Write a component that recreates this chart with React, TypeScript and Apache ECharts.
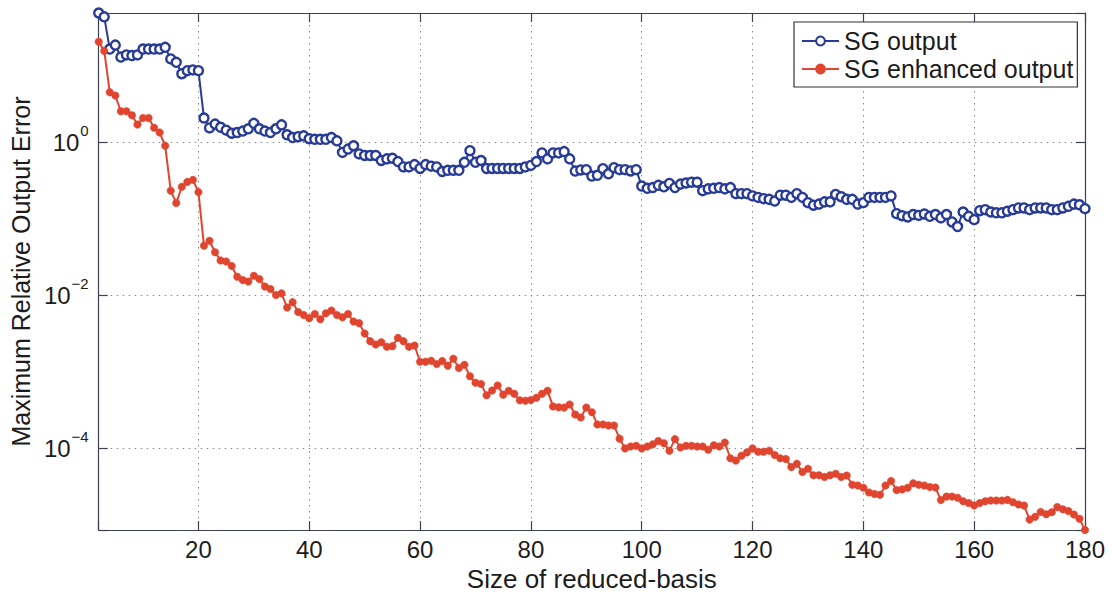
import React, { useEffect, useRef } from "react";
import * as echarts from "echarts";

// Size of reduced basis runs from basisStart, one point per size
const basisStart = 2;
const seriesNames = ["SG output", "SG enhanced output"];
const xTickValues = [20, 40, 60, 80, 100, 120, 140, 160, 180];
const yTickExponents = [-4, -2, 0];

// SG output (blue, open circles), sizes 2..180
const sgOutput = [
  49.5, 44.1, 16.7, 18.8, 13.1, 14.0, 13.7, 14.0, 16.7, 16.7,
  16.7, 16.7, 17.6, 12.4, 11.2, 7.94, 8.71, 8.91, 8.71, 2.09,
  1.55, 1.74, 1.58, 1.45, 1.32, 1.35, 1.41, 1.51, 1.78, 1.51,
  1.41, 1.35, 1.51, 1.70, 1.26, 1.16, 1.19, 1.22, 1.12, 1.10,
  1.10, 1.10, 1.16, 1.05, 0.741, 0.820, 0.906, 0.708, 0.676, 0.676,
  0.676, 0.581, 0.610, 0.622, 0.562, 0.479, 0.479, 0.513, 0.457, 0.513,
  0.490, 0.479, 0.417, 0.432, 0.432, 0.432, 0.550, 0.782, 0.550, 0.581,
  0.457, 0.457, 0.457, 0.457, 0.457, 0.457, 0.457, 0.479, 0.501, 0.562,
  0.730, 0.610, 0.730, 0.730, 0.759, 0.610, 0.422, 0.437, 0.441, 0.363,
  0.372, 0.454, 0.389, 0.468, 0.441, 0.441, 0.424, 0.441, 0.269, 0.251,
  0.257, 0.275, 0.263, 0.291, 0.257, 0.285, 0.295, 0.302, 0.302, 0.234,
  0.247, 0.251, 0.257, 0.247, 0.257, 0.214, 0.214, 0.214, 0.200, 0.191,
  0.184, 0.180, 0.171, 0.204, 0.204, 0.191, 0.214, 0.191, 0.163, 0.151,
  0.156, 0.167, 0.167, 0.209, 0.195, 0.180, 0.180, 0.156, 0.163, 0.191,
  0.191, 0.191, 0.191, 0.200, 0.117, 0.110, 0.106, 0.114, 0.111, 0.116,
  0.108, 0.114, 0.103, 0.114, 0.0912, 0.0794, 0.123, 0.108, 0.0977, 0.128,
  0.132, 0.123, 0.120, 0.120, 0.126, 0.132, 0.139, 0.139, 0.132, 0.139,
  0.139, 0.139, 0.132, 0.132, 0.139, 0.146, 0.156, 0.153, 0.136,
];

// SG enhanced output (red, filled dots), sizes 2..180
const sgEnhanced = [
  20.8, 15.8, 4.54, 4.11, 2.56, 2.56, 2.27, 1.72, 2.09, 2.09,
  1.56, 1.35, 0.906, 0.234, 0.161, 0.263, 0.305, 0.324, 0.224, 0.0446,
  0.0516, 0.0366, 0.0286, 0.0277, 0.0242, 0.0175, 0.0158, 0.0151, 0.0180, 0.0163,
  0.0130, 0.0121, 0.0101, 0.0106, 0.00692, 0.00813, 0.00603, 0.00552, 0.00501, 0.00569,
  0.00486, 0.00581, 0.00631, 0.00552, 0.00515, 0.00569, 0.00454, 0.00432, 0.00316, 0.00251,
  0.00227, 0.00243, 0.00212, 0.00216, 0.00277, 0.00251, 0.00212, 0.00220, 0.00135, 0.00135,
  0.00139, 0.00126, 0.00138, 0.00120, 0.00148, 0.00112, 0.00123, 0.000871, 0.000716, 0.000692,
  0.000492, 0.000568, 0.000661, 0.000501, 0.000562, 0.000513, 0.000422, 0.000417, 0.000427, 0.000457,
  0.000513, 0.000562, 0.000351, 0.000343, 0.000339, 0.000372, 0.000275, 0.000251, 0.000339, 0.000295,
  0.000204, 0.000204, 0.000198, 0.000198, 0.000133, 0.0000991, 0.000105, 0.000107, 0.0000991, 0.000105,
  0.000112, 0.000124, 0.000116, 0.0000925, 0.000131, 0.000102, 0.000107, 0.000107, 0.000105, 0.000105,
  0.0000953, 0.000109, 0.000105, 0.000118, 0.0000736, 0.0000687, 0.0000796, 0.0000879, 0.0000991, 0.0000897,
  0.0000897, 0.0000925, 0.0000813, 0.0000736, 0.0000721, 0.0000564, 0.0000622, 0.0000486, 0.0000537, 0.0000441,
  0.0000441, 0.0000419, 0.0000441, 0.0000462, 0.0000419, 0.0000437, 0.0000331, 0.0000324, 0.0000302, 0.0000263,
  0.0000251, 0.0000245, 0.0000324, 0.0000372, 0.0000282, 0.0000288, 0.0000302, 0.0000347, 0.0000331, 0.0000324,
  0.0000309, 0.0000305, 0.0000209, 0.0000232, 0.0000232, 0.0000224, 0.0000202, 0.0000191, 0.0000178, 0.0000191,
  0.0000202, 0.0000206, 0.0000206, 0.0000206, 0.0000210, 0.0000196, 0.0000183, 0.0000177, 0.0000116, 0.0000126,
  0.0000146, 0.0000136, 0.0000145, 0.0000169, 0.0000158, 0.0000150, 0.0000135, 0.0000119, 0.00000845,
];

export default function App() {
  const ref = useRef<HTMLDivElement>(null);

  useEffect(() => {
    if (!ref.current) return;
    const chart = echarts.init(ref.current, null, { renderer: "svg" });
    const fontFamily = "'Liberation Sans', Arial, Helvetica, sans-serif";
    const axisColor = "#3d4250";
    const textColor = "#1c1c1c";
    const blue = "#283b96";
    const red = "#e0452f";
    const toPairs = (arr: number[]) => arr.map((v, i) => [basisStart + i, v]);
    const xMin = basisStart;
    const xMax = basisStart + sgOutput.length - 1;
    const yMin = Math.min(...sgEnhanced, ...sgOutput);
    const yMax = Math.max(...sgEnhanced, ...sgOutput);

    const dotted = {
      show: true,
      lineStyle: { color: "#8c8c8c", width: 1, type: [1.5, 4.5] as any },
    };
    const axisLine = { show: true, onZero: false, lineStyle: { color: axisColor, width: 1.2 } };
    const tick = { show: true, inside: true, length: 9, lineStyle: { color: axisColor, width: 1.2 } };

    const xLabel = (v: number) =>
      xTickValues.includes(Math.round(v)) && Math.abs(v - Math.round(v)) < 1e-9 ? String(Math.round(v)) : "";
    const yLabel = (v: number) => {
      const e = Math.log10(v);
      const r = Math.round(e);
      if (Math.abs(e - r) > 1e-6 || !yTickExponents.includes(r)) return "";
      const s = r < 0 ? "\u2212" + Math.abs(r) : String(r);
      return `{b|10}{s|${s}}`;
    };

    chart.setOption({
      animation: false,
      backgroundColor: "#ffffff",
      grid: { left: 96, top: 13, width: 989, height: 524, containLabel: false },
      legend: {
        data: seriesNames,
        orient: "vertical",
        left: 794,
        top: 22,
        backgroundColor: "#ffffff",
        borderColor: "#333333",
        borderWidth: 1.2,
        padding: [6, 4, 5, 7],
        itemWidth: 37,
        itemHeight: 11,
        itemGap: 2,
        textStyle: { fontSize: 25, color: textColor, fontFamily, lineHeight: 26 },
      },
      xAxis: [
        {
          type: "value",
          min: xMin,
          max: xMax,
          splitNumber: 9,
          position: "bottom",
          axisLine,
          axisTick: tick,
          axisLabel: { formatter: xLabel, color: textColor, fontSize: 24, fontFamily, margin: 7 },
          splitLine: dotted,
          name: "Size of reduced-basis",
          nameLocation: "middle",
          nameGap: 30,
          nameTextStyle: { fontSize: 26, color: textColor, fontFamily },
        },
        {
          type: "value",
          min: xMin,
          max: xMax,
          splitNumber: 9,
          position: "top",
          axisLine,
          axisTick: tick,
          axisLabel: { show: false },
          splitLine: { show: false },
        },
      ],
      yAxis: [
        {
          type: "log",
          logBase: 100,
          min: yMin,
          max: yMax,
          position: "left",
          axisLine,
          axisTick: tick,
          minorTick: { show: false },
          axisLabel: {
            formatter: yLabel,
            color: textColor,
            fontFamily,
            margin: 10,
            rich: {
              b: { fontSize: 24, fontFamily, color: textColor },
              s: { fontSize: 15, fontFamily, color: textColor, padding: [0, 0, 24, 1] },
            },
          },
          splitLine: dotted,
          name: "Maximum Relative Output Error",
          nameLocation: "middle",
          nameGap: 58,
          nameTextStyle: { fontSize: 25, color: textColor, fontFamily },
        },
        {
          type: "log",
          logBase: 100,
          min: yMin,
          max: yMax,
          position: "right",
          axisLine,
          axisTick: tick,
          minorTick: { show: false },
          axisLabel: { show: false },
          splitLine: { show: false },
        },
      ],
      series: [
        {
          name: seriesNames[0],
          type: "line",
          data: toPairs(sgOutput),
          symbol: "circle",
          symbolSize: 9,
          showAllSymbol: true,
          lineStyle: { color: blue, width: 2 },
          itemStyle: { color: "#ffffff", borderColor: blue, borderWidth: 2.4 },
          z: 2,
        },
        {
          name: seriesNames[1],
          type: "line",
          data: toPairs(sgEnhanced),
          symbol: "circle",
          symbolSize: 7.5,
          showAllSymbol: true,
          lineStyle: { color: red, width: 2 },
          itemStyle: { color: red, borderColor: red, borderWidth: 0.5 },
          z: 3,
        },
      ],
    });

    return () => chart.dispose();
  }, []);

  return (
    <div
      ref={ref}
      style={{ position: "fixed", left: 0, top: 0, width: 1112, height: 597, background: "#fff" }}
    />
  );
}
